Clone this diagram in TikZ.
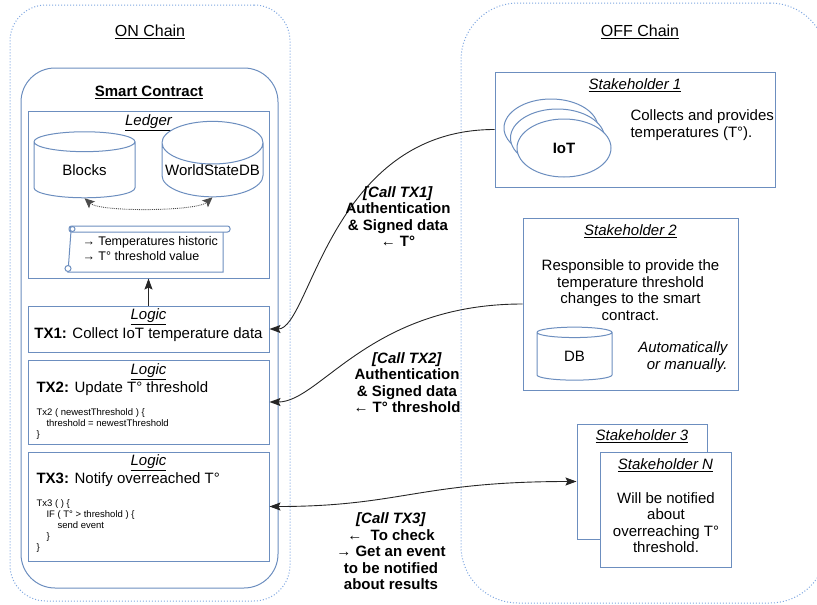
\documentclass[tikz,border=0pt]{standalone}
\usepackage{fontspec}
\setmainfont{Liberation Sans}
\usetikzlibrary{shapes.geometric, arrows.meta, positioning, calc}
\definecolor{dblue}{RGB}{108,142,191}
\definecolor{lblue}{RGB}{126,166,224}
\newcommand{\fsz}[2]{\fontsize{#1pt}{#2pt}\selectfont}
\tikzset{
    chainbox/.style={rectangle, draw=lblue, dotted, line width=1pt, inner sep=0pt},
    contractbox/.style={rectangle, rounded corners=34pt, draw=dblue, line width=1pt, inner sep=0pt},
    panel/.style={rectangle, draw=dblue, line width=1pt, fill=white, inner sep=0pt},
    dbcyl/.style={cylinder, shape border rotate=90, draw=dblue, line width=1pt, fill=white, inner sep=0pt, font=\fsz{15}{17}},
    devbox/.style={ellipse, draw=dblue, line width=1pt, fill=white, minimum width=94pt, minimum height=58pt, inner sep=0pt},
    chaintitle/.style={font=\fsz{16}{18}},
    hd/.style={font=\fsz{15}{17}\itshape},
    txt/.style={font=\fsz{15}{16.5}, align=center},
    lbl/.style={font=\fsz{15}{16.5}\bfseries, align=center},
    code/.style={font=\fsz{9.5}{11}, align=left, anchor=west},
    scroll/.style={draw=dblue, line width=1pt, fill=white},
    arrow/.style={-{Stealth[length=11pt, width=8pt, inset=2pt]}, line width=0.9pt, black!85},
    dblarrow/.style={{Stealth[length=11pt, width=8pt, inset=2pt]}-{Stealth[length=11pt, width=8pt, inset=2pt]}, line width=0.9pt, black!85},
}

\begin{document}
\begin{tikzpicture}[x=1pt, y=-1pt]
\clip (0,0) rectangle (817,605);

% ON / OFF chain areas
\node[chainbox, rounded corners=36pt, minimum width=280pt, minimum height=596pt] (on) at (150,303) {};
\node[chainbox, rounded corners=57pt, minimum width=366pt, minimum height=600pt] (off) at (644,303) {};
\node[chaintitle] (ontitle) at (150,32) {\underline{ON Chain}};
\node[chaintitle] (offtitle) at (640,32) {\underline{OFF Chain}};

% Smart contract
\node[contractbox, minimum width=257pt, minimum height=520pt] (sc) at (149.5,328) {};
\node[font=\fsz{15}{17}\bfseries] (sctitle) at (149,92) {\underline{Smart Contract}};

% Ledger
\node[panel, minimum width=241pt, minimum height=167pt] (ledger) at (148.5,194.5) {};
\node[hd] (ledgertitle) at (148.5,123) {\underline{Ledger}};
\node[dbcyl, aspect=0.45, minimum width=101pt, minimum height=66pt] (blocks) at (84.5,170) {Blocks};
\node[dbcyl, aspect=0.45, minimum width=101pt, minimum height=66pt] (wsdb) at (212.5,170) {WorldStateDB};
\draw[{Stealth[length=10pt, width=9pt, inset=2pt]}-{Stealth[length=10pt, width=9pt, inset=2pt]}, densely dotted, black!70, line width=0.9pt]
    (blocks.south) .. controls +(16,14) and +(-16,14) .. (wsdb.south);

% scroll with ledger content
\draw[scroll] (223,231) -- (223,272) -- (68,272) -- (71,231) -- cycle;
\draw[scroll, rounded corners=2.5pt] (69,226) rectangle (230,232);
\draw[scroll] (72.5,229) circle[radius=2.5pt];
\draw[scroll] (68,268.5) circle[radius=3pt];
\node[font=\fsz{12.5}{15}, align=left, anchor=west] (hist) at (79,248.5) {→ Temperatures historic\\→ T° threshold value};

% Logic transactions
\node[panel, minimum width=241pt, minimum height=46pt] (tx1) at (148.5,329) {};
\node[hd] (tx1title) at (148.5,317) {\underline{Logic}};
\node[txt] (tx1text) at (148.5,334.5) {\textbf{TX1:} Collect IoT temperature data};

\node[panel, minimum width=241pt, minimum height=84pt] (tx2) at (148.5,402) {};
\node[hd] (tx2title) at (148.5,372) {\underline{Logic}};
\node[txt, anchor=west] (tx2text) at (33,388.5) {\textbf{TX2:} Update T° threshold};
\node[code] (tx2code) at (33,424) {Tx2 ( newestThreshold ) \{\\\hspace*{10pt}threshold = newestThreshold\\\}};

\node[panel, minimum width=241pt, minimum height=109pt] (tx3) at (148.5,506.5) {};
\node[hd] (tx3title) at (148.5,463) {\underline{Logic}};
\node[txt, anchor=west] (tx3text) at (33,480) {\textbf{TX3:} Notify overreached T°};
\node[code] (tx3code) at (33,526) {Tx3 ( ) \{\\\hspace*{10pt}IF ( T° > threshold ) \{\\\hspace*{21pt}send event\\\hspace*{10pt}\}\\\}};

\draw[arrow] (tx1.north) -- (ledger.south);

% Stakeholder 1
\node[panel, minimum width=280pt, minimum height=115pt] (st1) at (635,129.5) {};
\node[hd] (st1title) at (635,85) {\underline{Stakeholder 1}};
\node[devbox] (iot1) at (551,128) {};
\node[devbox] (iot2) at (557.5,138) {};
\node[devbox, font=\fsz{15}{17}\bfseries] (iot) at (564,148) {IoT};
\node[txt, align=left, anchor=west] (st1text) at (627,125) {Collects and provides\\temperatures (T°).};

% Stakeholder 2
\node[panel, minimum width=215pt, minimum height=172pt] (st2) at (630.5,304) {};
\node[hd] (st2title) at (630.5,231) {\underline{Stakeholder 2}};
\node[txt] (st2text) at (630.5,290) {Responsible to provide the\\temperature threshold\\changes to the smart\\contract.};
\node[dbcyl, aspect=0.5, minimum width=75pt, minimum height=53pt] (db) at (574.5,356.5) {DB};
\node[txt, align=right, anchor=east, font=\fsz{15}{16.5}\itshape] (st2mode) at (731,357) {Automatically\\or manually.};

% Stakeholder 3 ... N
\node[panel, minimum width=130pt, minimum height=115pt] (st3) at (642,481.5) {};
\node[hd] (st3title) at (642,436) {\underline{Stakeholder 3}};
\node[panel, minimum width=131pt, minimum height=115pt] (stn) at (665.5,509.5) {};
\node[hd] (stntitle) at (665.5,465) {\underline{Stakeholder N}};
\node[txt] (stntext) at (666,522.5) {Will be notified\\about\\overreaching T°\\threshold.};

% Calls
\draw[arrow] (st1.west) .. controls +(-165,0) and +(41,0) .. (tx1.east);
\draw[arrow] (st2.west) .. controls +(-153,0) and +(51,0) .. (tx2.east);
\draw[dblarrow] (tx3.east) .. controls +(131,0) and +(-157,0) .. (st3.west);

\node[lbl] (call1) at (398,216.5) {\textit{[Call TX1]}\\Authentication\\\& Signed data\\← T°};
\node[lbl] (call2) at (407,382.5) {\textit{[Call TX2]}\\Authentication\\\& Signed data\\← T° threshold};
\node[lbl] (call3) at (391,551.5) {\textit{[Call TX3]}\\←\ \ To check\\→ Get an event\\to be notified\\about results};

\end{tikzpicture}
\end{document}
